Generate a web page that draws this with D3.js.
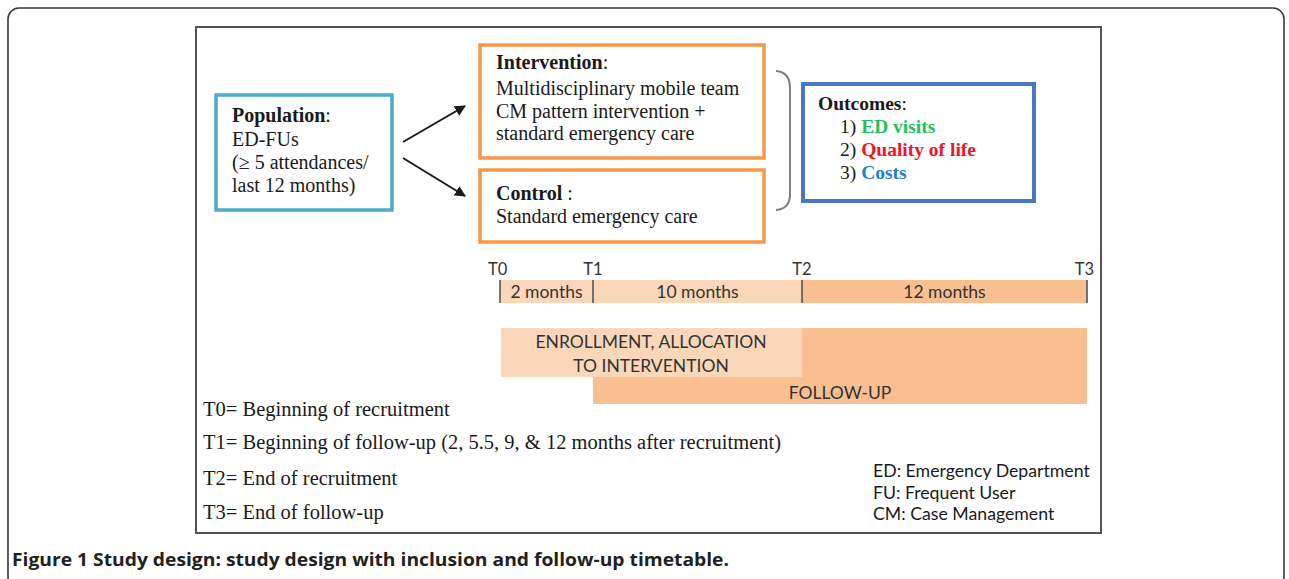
<!DOCTYPE html>
<html>
<head>
<meta charset="utf-8">
<script src="https://cdn.jsdelivr.net/npm/d3@7"></script>
<style>
  html, body { margin: 0; padding: 0; background: #fff; }
  svg { display: block; }
</style>
</head>
<body>
<svg id="chart" width="1289" height="579"></svg>
<script>
// ---------- data ----------
const populationLines = ["ED-FUs", "(\u2265 5 attendances/", "last 12 months)"];
const interventionLines = ["Multidisciplinary mobile team", "CM pattern intervention +", "standard emergency care"];
const controlLines = ["Standard emergency care"];
const outcomeNums = ["1) ", "2) ", "3) "];
const outcomeNames = ["ED visits", "Quality of life", "Costs"];
const outcomeColors = ["#22bf5c", "#f0142b", "#1f7fcf"];
const timePoints = ["T0", "T1", "T2", "T3"];
const timeMonths = [0, 2, 12, 24];
const segmentLabels = ["2 months", "10 months", "12 months"];
const phaseNames = ["ENROLLMENT, ALLOCATION|TO INTERVENTION", "FOLLOW-UP"];
const phaseStart = [0, 2];
const phaseEnd = [12, 24];
const definitions = [
  "T0= Beginning of recruitment",
  "T1= Beginning of follow-up (2, 5.5, 9, & 12 months after recruitment)",
  "T2= End of recruitment",
  "T3= End of follow-up"
];
const abbreviations = ["ED: Emergency Department", "FU: Frequent User", "CM: Case Management"];
const captionBold = "Figure 1";
const captionText = " Study design: study design with inclusion and follow-up timetable.";

// ---------- drawing ----------
const svg = d3.select("#chart");
const serif = "'Liberation Serif', 'Times New Roman', serif";
const sans = "Lato, 'Open Sans', sans-serif";

// outer rounded frame
svg.append("rect").attr("x", 8).attr("y", 8).attr("width", 1276).attr("height", 580)
  .attr("rx", 11).attr("fill", "none").attr("stroke", "#3a3a3a").attr("stroke-width", 1.6);

// inner figure frame
svg.append("rect").attr("x", 196).attr("y", 27).attr("width", 905).attr("height", 506)
  .attr("fill", "#fff").attr("stroke", "#555").attr("stroke-width", 2);

// arrow marker
const defs = svg.append("defs");
defs.append("marker").attr("id", "arr").attr("viewBox", "0 0 10 10")
  .attr("refX", 9).attr("refY", 5).attr("markerWidth", 5.5).attr("markerHeight", 5.5)
  .attr("orient", "auto").attr("markerUnits", "strokeWidth")
  .append("path").attr("d", "M0,0 L10,5 L0,10 Z").attr("fill", "#1a1a1a");

// population box
svg.append("rect").attr("x", 216).attr("y", 95).attr("width", 176).attr("height", 115)
  .attr("fill", "#fff").attr("stroke", "#4bacc6").attr("stroke-width", 3.5);
const popT = svg.append("text").attr("font-family", serif).attr("font-size", 20).attr("fill", "#1a1a1a");
const pl = popT.append("tspan").attr("x", 232).attr("y", 122);
pl.append("tspan").attr("font-weight", "bold").text("Population");
pl.append("tspan").text(":");
populationLines.forEach((s, i) => popT.append("tspan").attr("x", 232).attr("y", 145.5 + i * 23).text(s));

// arrows
const arrows = [[403, 142, 465, 106], [403, 158, 465, 196]];
svg.selectAll("line.arrow").data(arrows).join("line").attr("class", "arrow")
  .attr("x1", d => d[0]).attr("y1", d => d[1]).attr("x2", d => d[2]).attr("y2", d => d[3])
  .attr("stroke", "#1a1a1a").attr("stroke-width", 2).attr("marker-end", "url(#arr)");

// intervention & control boxes
const orange = "#f79646";
svg.append("rect").attr("x", 480).attr("y", 45).attr("width", 284).attr("height", 113)
  .attr("fill", "#fff").attr("stroke", orange).attr("stroke-width", 3.5);
svg.append("rect").attr("x", 480).attr("y", 170).attr("width", 284).attr("height", 72)
  .attr("fill", "#fff").attr("stroke", orange).attr("stroke-width", 3.5);

const intT = svg.append("text").attr("font-family", serif).attr("font-size", 20).attr("fill", "#1a1a1a");
const il = intT.append("tspan").attr("x", 496).attr("y", 69);
il.append("tspan").attr("font-weight", "bold").text("Intervention");
il.append("tspan").text(":");
interventionLines.forEach((s, i) => intT.append("tspan").attr("x", 496).attr("y", 95 + i * 22.5).text(s));

const ctlT = svg.append("text").attr("font-family", serif).attr("font-size", 20).attr("fill", "#1a1a1a");
const cl = ctlT.append("tspan").attr("x", 496).attr("y", 200);
cl.append("tspan").attr("font-weight", "bold").text("Control");
cl.append("tspan").text(" :");
controlLines.forEach((s, i) => ctlT.append("tspan").attr("x", 496).attr("y", 223 + i * 22.5).text(s));

// brace
svg.append("path").attr("d", "M776,71 Q790,72 790,88 L790,194 Q790,209 776,210")
  .attr("fill", "none").attr("stroke", "#7f7f7f").attr("stroke-width", 2);

// outcomes box
svg.append("rect").attr("x", 803).attr("y", 84).attr("width", 231).attr("height", 117)
  .attr("fill", "#fff").attr("stroke", "#4a78c0").attr("stroke-width", 4);
const outT = svg.append("text").attr("font-family", serif).attr("font-size", 19.5).attr("fill", "#1a1a1a");
const ol = outT.append("tspan").attr("x", 818).attr("y", 110);
ol.append("tspan").attr("font-weight", "bold").text("Outcomes");
ol.append("tspan").text(":");
outcomeNames.forEach((s, i) => {
  const row = outT.append("tspan").attr("x", 840).attr("y", 133 + i * 23);
  row.append("tspan").text(outcomeNums[i] + (i === 0 ? " " : ""));
  row.append("tspan").attr("font-weight", "bold").attr("fill", outcomeColors[i]).text(s);
});

// ---------- timeline ----------
const x = d3.scaleLinear().domain(timeMonths).range([500, 593, 802, 1087]);
const light = "#fbd7ba", dark = "#f9bf91";
const segs = d3.range(segmentLabels.length).map(i => ({ a: timeMonths[i], b: timeMonths[i + 1], label: segmentLabels[i] }));

svg.selectAll("rect.seg").data(segs).join("rect").attr("class", "seg")
  .attr("x", d => x(d.a)).attr("y", 280).attr("width", d => x(d.b) - x(d.a)).attr("height", 23)
  .attr("fill", (d, i) => i < 2 ? light : dark);
svg.selectAll("text.seg").data(segs).join("text").attr("class", "seg")
  .attr("x", d => (x(d.a) + x(d.b)) / 2).attr("y", 298).attr("text-anchor", "middle")
  .attr("font-family", sans).attr("font-size", 17.5).attr("fill", "#333").text(d => d.label);
svg.selectAll("line.tick").data(timeMonths).join("line").attr("class", "tick")
  .attr("x1", d => x(d)).attr("x2", d => x(d)).attr("y1", 280).attr("y2", 303)
  .attr("stroke", "#555").attr("stroke-width", 1.6);
svg.selectAll("text.tp").data(timePoints).join("text").attr("class", "tp")
  .attr("x", (d, i) => x(timeMonths[i])).attr("y", 275)
  .attr("text-anchor", (d, i) => i === 0 ? "start" : (i === 3 ? "end" : "middle"))
  .attr("dx", (d, i) => i === 0 ? -12 : (i === 3 ? 7 : 0))
  .attr("font-family", sans).attr("font-size", 16.5).attr("fill", "#333").text(d => d);

// phases (follow-up first, enrollment on top)
const phases = phaseNames.map((n, i) => ({ name: n, a: phaseStart[i], b: phaseEnd[i], i }));
svg.append("rect").attr("x", x(phases[1].a)).attr("y", 328).attr("width", x(phases[1].b) - x(phases[1].a)).attr("height", 76).attr("fill", dark);
svg.append("rect").attr("x", x(phases[0].a) + 1).attr("y", 328).attr("width", x(phases[0].b) - x(phases[0].a) - 1).attr("height", 49).attr("fill", light);
phases[0].name.split("|").forEach((s, j) => {
  svg.append("text").attr("x", (x(phases[0].a) + x(phases[0].b)) / 2).attr("y", 348 + j * 24)
    .attr("text-anchor", "middle").attr("font-family", sans).attr("font-size", 17.5).attr("fill", "#333").text(s);
});
svg.append("text").attr("x", (x(phases[1].a) + x(phases[1].b)) / 2).attr("y", 399)
  .attr("text-anchor", "middle").attr("font-family", sans).attr("font-size", 17.5).attr("fill", "#333").text(phases[1].name);

// definitions
const defY = [416, 449, 485, 519];
svg.selectAll("text.def").data(definitions).join("text").attr("class", "def")
  .attr("x", 203).attr("y", (d, i) => defY[i]).attr("font-family", serif).attr("font-size", 20.5)
  .attr("fill", "#1a1a1a").text(d => d);

// abbreviations
svg.selectAll("text.abbr").data(abbreviations).join("text").attr("class", "abbr")
  .attr("x", 873).attr("y", (d, i) => 477 + i * 21.5).attr("font-family", sans).attr("font-size", 17.7)
  .attr("fill", "#1a1a1a").text(d => d);

// caption
const cap = svg.append("text").attr("x", 12).attr("y", 566).attr("font-family", "'Open Sans', sans-serif")
  .attr("font-size", 18.5).attr("font-weight", "bold").attr("fill", "#231f20")
  .attr("textLength", 717).attr("lengthAdjust", "spacingAndGlyphs");
cap.append("tspan").text(captionBold);
cap.append("tspan").text(captionText);
</script>
</body>
</html>
